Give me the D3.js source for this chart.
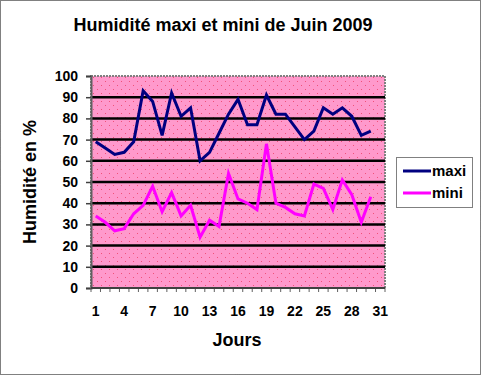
<!DOCTYPE html>
<html><head><meta charset="utf-8">
<script src="https://cdn.jsdelivr.net/npm/d3@7"></script>
<style>body{margin:0;background:#fff}svg{display:block}</style>
</head><body>
<script>
const days = d3.range(1, 32);
const maxi = [69,66,63,64,69,93,88,72,92,81,85,60,64,73,82,89,77,77,91,82,82,76,70,74,85,82,85,81,72,74];
const mini = [34,31,27,28,35,39,48,36,45,34,39,24,32,29,54,42,40,37,68,40,38,35,34,49,47,37,51,44,31,43];
const yTicks = [0,10,20,30,40,50,60,70,80,90,100];
const xLabels = [1,4,7,10,13,16,19,22,25,28,31];
const seriesNames = ["maxi","mini"];
const colors = ["#000080","#FF00FF"];

const W = 481, H = 375;
const plot = {l: 91, r: 385, t: 76, b: 288};
const FONT = "Arial, 'Liberation Sans', sans-serif";
const svg = d3.select("body").append("svg").attr("width", W).attr("height", H)
  .style("font-family", FONT);

const defs = svg.append("defs");
const pat = defs.append("pattern").attr("id","dots").attr("patternUnits","userSpaceOnUse")
  .attr("width",8).attr("height",8);
pat.append("rect").attr("width",8).attr("height",8).attr("fill","#FF99CC");
pat.append("rect").attr("x",1).attr("y",1).attr("width",1).attr("height",1).attr("fill","#F0507A");
pat.append("rect").attr("x",5).attr("y",5).attr("width",1).attr("height",1).attr("fill","#F0507A");

// outer border
svg.append("rect").attr("x",0.5).attr("y",0.5).attr("width",W-1).attr("height",H-1)
  .attr("fill","#fff").attr("stroke","#000").attr("stroke-dasharray","1,1");

const x = d3.scaleBand().domain(days).range([plot.l, plot.r]).padding(0);
const y = d3.scaleLinear().domain([0,100]).range([plot.b, plot.t]);
const cx = d => x(d) + x.bandwidth()/2;

// plot area
svg.append("rect").attr("x",plot.l).attr("y",plot.t).attr("width",plot.r-plot.l).attr("height",plot.b-plot.t)
  .attr("fill","url(#dots)").attr("stroke","#808080").attr("stroke-width",2).attr("stroke-dasharray","2,1");

// gridlines
svg.append("g").selectAll("line").data(yTicks.filter(v => v>0 && v<100)).join("line")
  .attr("x1",plot.l).attr("x2",plot.r).attr("y1",d=>y(d)).attr("y2",d=>y(d))
  .attr("stroke","#000").attr("stroke-width",2.5);

// y axis
const yAxis = d3.axisLeft(y).tickValues(yTicks).tickSize(5).tickPadding(8);
const gy = svg.append("g").attr("transform",`translate(${plot.l},0)`).call(yAxis);
gy.select(".domain").attr("stroke","#606060").attr("stroke-width",2);
gy.selectAll(".tick line").attr("stroke","#404040").attr("stroke-width",1.5);
gy.selectAll(".tick text").attr("font-size",14).attr("font-weight","bold").attr("fill","#000")
  .attr("font-family",FONT);

// x axis: tick marks at band boundaries
const boundaries = d3.range(0, 32).map(i => plot.l + i*x.bandwidth());
svg.append("g").selectAll("line").data(boundaries).join("line")
  .attr("x1",d=>d).attr("x2",d=>d).attr("y1",plot.b).attr("y2",plot.b+4)
  .attr("stroke","#606060").attr("stroke-width",1);
svg.append("line").attr("x1",plot.l).attr("x2",plot.r).attr("y1",plot.b).attr("y2",plot.b)
  .attr("stroke","#404040").attr("stroke-width",2);
svg.append("g").selectAll("text").data(xLabels).join("text")
  .attr("x",d=>cx(d)).attr("y",316).attr("text-anchor","middle")
  .attr("font-size",14).attr("font-weight","bold").text(d=>d);

// lines
const line = d3.line().x((d,i)=>cx(days[i])).y(d=>y(d));
[maxi, mini].forEach((s,k) => {
  svg.append("path").datum(s).attr("d",line).attr("fill","none")
    .attr("stroke",colors[k]).attr("stroke-width",3).attr("stroke-linejoin","miter");
});

// title
svg.append("text").attr("x",223).attr("y",31).attr("text-anchor","middle")
  .attr("font-size",18).attr("font-weight","bold").text("Humidité maxi et mini de Juin 2009");
// axis titles
svg.append("text").attr("x",237).attr("y",346).attr("text-anchor","middle")
  .attr("font-size",18).attr("font-weight","bold").text("Jours");
svg.append("text").attr("transform","translate(36,182) rotate(-90)").attr("text-anchor","middle")
  .attr("font-size",18).attr("font-weight","bold").text("Humidité en %");

// legend
const lg = svg.append("g");
lg.append("rect").attr("x",396.5).attr("y",157.5).attr("width",76).attr("height",50)
  .attr("fill","#fff").attr("stroke","#808080").attr("stroke-width",1);
seriesNames.forEach((n,k) => {
  const yy = 171 + k*22;
  lg.append("line").attr("x1",403).attr("x2",431).attr("y1",yy).attr("y2",yy)
    .attr("stroke",colors[k]).attr("stroke-width",3);
  lg.append("text").attr("x",432).attr("y",yy+5).attr("font-size",15).attr("font-weight","bold")
    .attr("fill","#000").text(n);
});
</script>
</body></html>
